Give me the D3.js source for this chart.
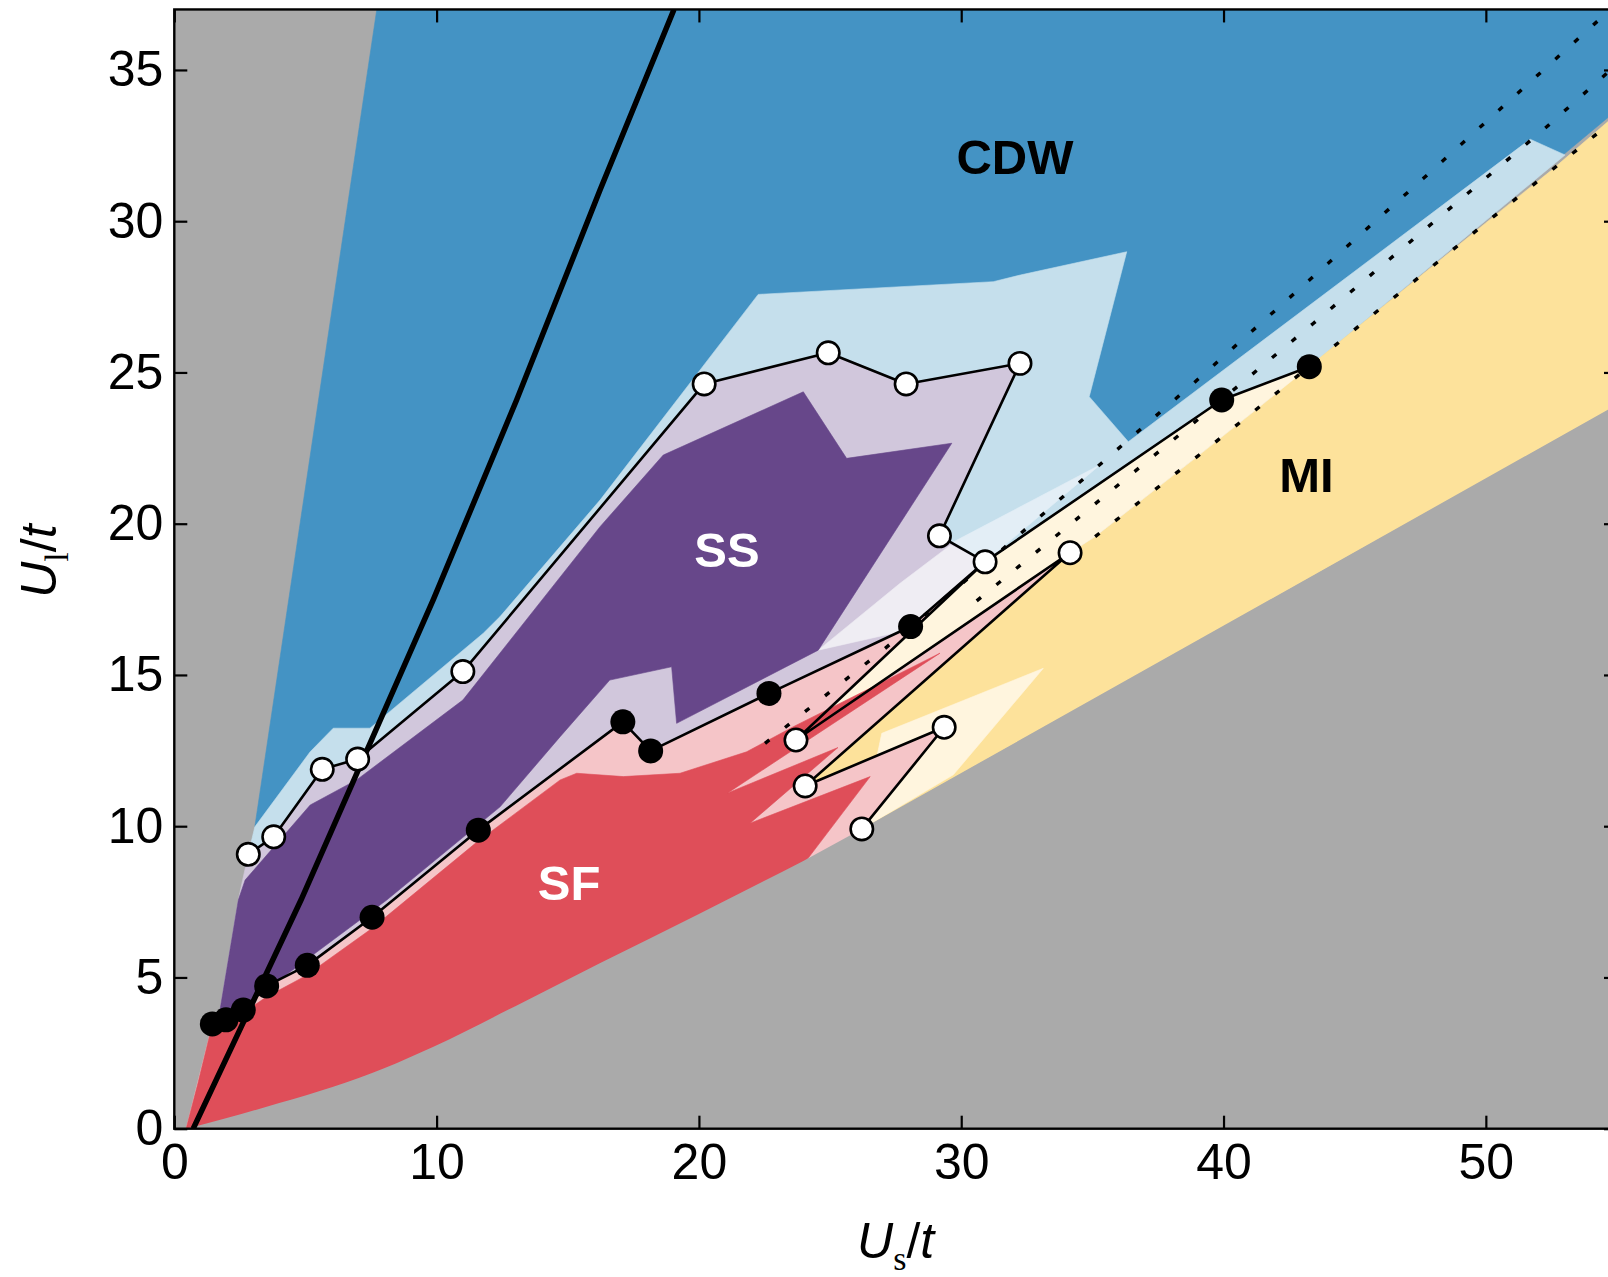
<!DOCTYPE html>
<html><head><meta charset="utf-8">
<script src="https://cdn.jsdelivr.net/npm/d3@7"></script>
<style>
html,body{margin:0;padding:0;background:#fff;overflow:hidden;}
svg{display:block;}
text{font-family:"Liberation Sans",Arial,Helvetica,sans-serif;}
</style></head><body>
<svg id="chart" width="1608" height="1277"></svg>
<script>
// ---------------- data (Us/t , Ul/t) ----------------
const xTicks = [0, 10, 20, 30, 40, 50];
const yTicks = [0, 5, 10, 15, 20, 25, 30, 35];

// open circles
const openCircles = [
  [2.82,9.07],[3.79,9.65],[5.64,11.88],[6.99,12.22],[11.0,15.11],
  [20.2,24.62],[24.93,25.65],[27.9,24.62],[32.24,25.3],[29.17,19.6],
  [30.91,18.74],[34.15,19.04],[23.7,12.85],[24.05,11.33],[29.35,13.27],[26.21,9.91]
];
const openPathOrder = [0,1,2,3,4,5,6,7,8,9,10,12,11,13,14,15];

// filled circles
const filledCircles = [
  [1.45,3.46],[1.97,3.6],[2.63,3.92],[3.52,4.72],[5.07,5.40],[7.54,6.99],
  [11.59,9.87],[17.1,13.45],[18.16,12.49],[22.67,14.39],[28.07,16.6],
  [39.93,24.09],[43.27,25.19]
];
const filledPath = [
  [1.45,3.46],[1.97,3.6],[2.63,3.92],[3.52,4.72],[5.07,5.40],[7.54,6.99],
  [11.59,9.87],[17.1,13.45],[18.16,12.49],[22.67,14.39],[28.07,16.6],
  [30.91,18.74],[39.93,24.09],[43.27,25.19]
];

// thick solid boundary line
const thickLine = [[0.72,0],[4.83,7.56],[9.87,17.48],[13.05,24.09],[16.23,31.03],[19.05,37]];

// dotted lines
const dottedA = [[22.52,12.74],[27.1,15.88],[31.54,19.13],[38.85,24.64],[47.6,31.4],[54.1,36.49],[55.4,37.5]];
const dottedB = [[30.59,17.45],[33.58,19.57],[38.85,23.32],[43.42,26.62],[52.32,33.12],[55.4,35.5]];
const dottedC = [[34.3,19.1],[35.1,19.57],[38.91,22.16],[41.14,23.7],[50.29,30.15],[52.51,31.69],[55.4,33.7]];

// region boundaries
const grayCurve = [[0.45,0],[2,0.35],[4,0.85],[6.06,1.39],[8,2.0],[9.88,2.71],[13,4.05],[16.22,5.47],[20,7.1],[23.96,8.84]];
const grayLine = [[26.21,9.91],[56,24.42]];
const regionBlue = [[7.72,37],[56,37],[56,34.4],[43.27,25.19],[39.93,24.09],[30.91,18.74],[3.07,9.98]];
const regionLightBlue = [[3.07,9.98],[5.18,12.46],[6.06,13.24],[7.46,13.24],[11.78,16.38],[12.42,16.93],[16.23,20.78],
  [22.26,27.58],[31.22,28.0],[32.25,28.22],[36.31,28.99],[34.88,24.2],[36.37,22.71],[51.69,32.71],[53.02,32.19],
  [43.27,25.19],[39.93,24.09],[30.91,18.74],[29.17,19.6],[32.24,25.3],[27.9,24.62],[24.93,25.65],[20.2,24.62],
  [11.0,15.11],[6.99,12.22],[5.64,11.88],[3.79,9.65],[2.82,9.07]];
const regionPale = [[29.6,19.35],[35.3,21.95],[30.91,18.74]];
const regionYellow = [[56,34.3],[52.51,31.69],[50.29,30.15],[41.14,23.7],[38.91,22.16],[35.1,19.57],[34.15,19.04],
  [24.05,11.33],[26.21,9.91],[56,24.42]];
const regionCreamBand = [[30.91,18.74],[39.93,24.09],[43.27,25.19],[41.14,23.7],[38.91,22.16],[35.1,19.57],[34.15,19.04],[23.7,12.85]];
const regionCreamSpike = [[26.97,13.07],[33.13,15.22],[29.7,11.7],[26.21,9.91]];
const regionPinkEdge = [[30.91,18.74],[23.7,12.85],[34.15,19.04],[24.05,11.33],[29.35,13.27],[26.21,9.91],[26.21,-1],[0.45,-1],[0.45,0]];
const regionRed = [[0.45,0],[0.9,1.5],[1.35,3.1],[2.0,3.45],[3.5,4.35],[5.0,5.05],[7.5,6.6],[11.5,9.45],
  [14.71,11.53],[15.34,11.75],[17.12,11.64],[19.28,11.75],[21.82,12.46],[23.6,13.29],[29.19,15.72],
  [21.1,11.1],[25.3,12.6],[21.95,10.1],[26.53,11.64],[24.11,8.88],[24.11,-1],[0.45,-1]];
const regionLavenderLeft = [[1.74,3.92],[2.44,7.56],[2.6,8.2]];
const regionVeryLight = [[24.55,15.82],[27.67,18.03],[29.6,19.3],[30.91,18.74],[28.07,16.6],[27.67,16.43]];
const regionPurple = [[1.5,3.55],[1.74,3.92],[2.44,7.56],[2.7,8.22],[5.18,10.7],[6.95,11.53],[11.0,14.17],
  [16.23,19.9],[18.64,22.27],[23.98,24.36],[25.63,22.16],[29.64,22.66],[24.55,15.82],[19.15,13.4],
  [18.96,15.27],[16.6,14.83],[14.71,12.96],[12.42,10.64],[8.1,7.56],[3.14,4.36],[2.0,3.75]];

const phaseNames = ["CDW","SS","SF","MI"];
const phaseAnchors = [[32.05,31.56],[21.07,18.57],[15.05,7.56],[43.16,21.05]];
const phaseColors = ["#000","#fff","#fff","#000"];

// ---------------- drawing ----------------
const m = {left:174.3, top:9.45, right:1617, bottom:1128.7};
const x = d3.scaleLinear().domain([0,55]).range([m.left, m.right]);
const y = d3.scaleLinear().domain([0,37]).range([m.bottom, m.top]);
const svg = d3.select("#chart");

svg.append("defs").append("clipPath").attr("id","plotclip")
  .append("rect").attr("x",m.left).attr("y",m.top).attr("width",m.right-m.left).attr("height",m.bottom-m.top);

const g = svg.append("g").attr("clip-path","url(#plotclip)");
const line = d3.line().x(d=>x(d[0])).y(d=>y(d[1]));
const poly = pts => line(pts) + "Z";
const GRAY = "#aaaaaa";

g.append("rect").attr("x",m.left).attr("y",m.top).attr("width",m.right-m.left).attr("height",m.bottom-m.top).attr("fill",GRAY);

const oc = i => openCircles[i];
const regions = [
  [regionBlue, "#4493c4"],
  [regionLightBlue, "#c5dfec"],
  [regionPale, "#e3eef6"],
  [regionYellow, "#fde29b"],
  [regionCreamBand, "#fff5de"],
  [regionCreamSpike, "#fff5de"],
  [filledCircles.slice(0,11).concat(regionPinkEdge), "#f5c5c8"],
  [regionRed, "#df4e59"],
  [openPathOrder.slice(0,11).map(oc).concat([filledCircles[10]]).concat(filledCircles.slice(0,10).reverse()).concat(regionLavenderLeft), "#d1c7dc"],
  [regionVeryLight, "#efedf3"],
  [regionPurple, "#67478a"]
];
regions.forEach(([pts,col]) => {
  g.append("path").attr("d", poly(pts)).attr("fill", col).attr("stroke", col).attr("stroke-width", 0.6);
});

// smooth lower gray boundary (covers everything beneath it)
const curveLine = d3.line().x(d=>x(d[0])).y(d=>y(d[1])).curve(d3.curveMonotoneX);
const grayPath = curveLine(grayCurve) + grayLine.map(d=>`L${x(d[0])},${y(d[1])}`).join("") +
  `L${x(56)},${y(-1)}L${x(0)},${y(-1)}L${x(0.45)},${y(0)}Z`;
g.append("path").attr("d", grayPath).attr("fill", GRAY);

// dotted lines
[dottedA, dottedB, dottedC].forEach(pts => {
  g.append("path").attr("d", line(pts)).attr("fill","none").attr("stroke","#000")
    .attr("stroke-width",3.4).attr("stroke-dasharray","5.5 20");
});

// thick line
g.append("path").attr("d", line(thickLine)).attr("fill","none").attr("stroke","#000").attr("stroke-width",5.5);

// connecting lines
g.append("path").attr("d", line(filledPath)).attr("fill","none").attr("stroke","#000").attr("stroke-width",2.6).attr("stroke-linejoin","round");
g.append("path").attr("d", line(openPathOrder.map(oc))).attr("fill","none").attr("stroke","#000").attr("stroke-width",2.6).attr("stroke-linejoin","round");

// markers
g.selectAll("circle.f").data(filledCircles).join("circle").attr("class","f")
  .attr("cx",d=>x(d[0])).attr("cy",d=>y(d[1])).attr("r",12.5).attr("fill","#000");
g.selectAll("circle.o").data(openCircles).join("circle").attr("class","o")
  .attr("cx",d=>x(d[0])).attr("cy",d=>y(d[1])).attr("r",11.2).attr("fill","#fff")
  .attr("stroke","#000").attr("stroke-width",2.6);

// phase labels
g.selectAll("text.ph").data(phaseNames).join("text").attr("class","ph")
  .attr("x",(d,i)=>x(phaseAnchors[i][0])).attr("y",(d,i)=>y(phaseAnchors[i][1]))
  .attr("text-anchor","middle").attr("font-weight","bold").attr("font-size",49)
  .attr("fill",(d,i)=>phaseColors[i]).text(d=>d);

// axes
const axG = svg.append("g");
const xb = axG.append("g").attr("transform",`translate(0,${m.bottom})`)
  .call(d3.axisBottom(x).tickValues(xTicks).tickSize(-13).tickPadding(15).tickFormat(d3.format("d")));
const xt = axG.append("g").attr("transform",`translate(0,${m.top})`)
  .call(d3.axisTop(x).tickValues(xTicks).tickSize(-13).tickFormat(""));
const yl = axG.append("g").attr("transform",`translate(${m.left},0)`)
  .call(d3.axisLeft(y).tickValues(yTicks).tickSize(-13).tickPadding(11).tickFormat(d3.format("d")));
const yr = axG.append("g").attr("transform",`translate(${m.right},0)`)
  .call(d3.axisRight(y).tickValues(yTicks).tickSize(-13).tickFormat(""));
[xb,xt,yl,yr].forEach(a=>{
  a.select(".domain").remove();
  a.selectAll(".tick line").attr("stroke","#000").attr("stroke-width",2.2);
  a.selectAll(".tick text").attr("font-size",50).attr("fill","#000")
    .attr("font-family",'"Liberation Sans",Arial,sans-serif');
});
axG.append("rect").attr("x",m.left).attr("y",m.top).attr("width",m.right-m.left).attr("height",m.bottom-m.top)
  .attr("fill","none").attr("stroke","#000").attr("stroke-width",2.4);

// axis titles
const xl = svg.append("text").attr("x", (m.left+m.right)/2).attr("y", 1258).attr("text-anchor","middle").attr("font-size",50);
xl.append("tspan").attr("font-style","italic").text("U");
xl.append("tspan").attr("font-size",34).attr("dy",12).attr("font-family",'"Liberation Serif",serif').text("s");
xl.append("tspan").attr("dy",-12).text("/");
xl.append("tspan").attr("font-style","italic").text("t");

const ylab = svg.append("text").attr("transform",`translate(56,${(m.top+m.bottom)/2-8}) rotate(-90)`)
  .attr("text-anchor","middle").attr("font-size",50);
ylab.append("tspan").attr("font-style","italic").text("U");
ylab.append("tspan").attr("font-size",34).attr("dy",12).attr("font-family",'"Liberation Serif",serif').text("l");
ylab.append("tspan").attr("dy",-12).text("/");
ylab.append("tspan").attr("font-style","italic").text("t");
</script>
</body></html>
